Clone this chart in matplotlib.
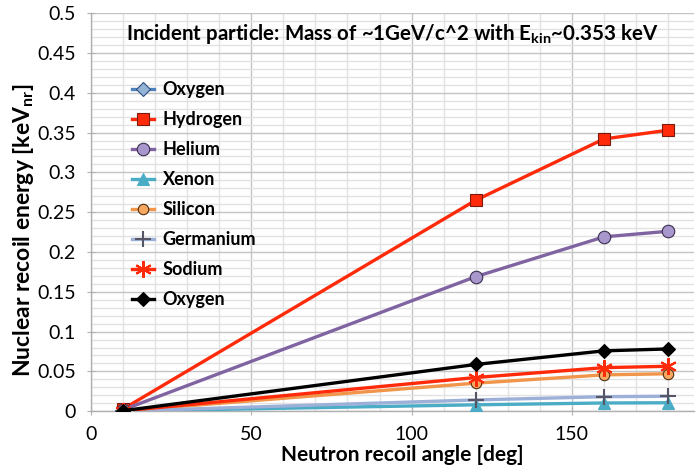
import matplotlib
matplotlib.use("Agg")
import matplotlib.pyplot as plt
from matplotlib.ticker import MultipleLocator, FuncFormatter

plt.rcParams['font.family'] = ['Lato', 'DejaVu Sans']
plt.rcParams['mathtext.fontset'] = 'custom'
plt.rcParams['mathtext.bf'] = 'Lato:bold'
plt.rcParams['mathtext.rm'] = 'Lato'

angles = [10, 120, 160, 180]
oxygen_blue = []
hydrogen = [0.0027, 0.265, 0.342, 0.353]
helium = [0.0017, 0.169, 0.219, 0.226]
xenon = [0.0001, 0.0080, 0.0103, 0.0106]
silicon = [0.0004, 0.0352, 0.0456, 0.047]
germanium = [0.0001, 0.0141, 0.0182, 0.0188]
sodium = [0.0004, 0.0423, 0.0547, 0.0564]
oxygen = [0.0006, 0.0587, 0.0758, 0.0782]

x_ticks = [0, 50, 100, 150]

fig = plt.figure(figsize=(7.0, 4.71), dpi=100)
ax = fig.add_axes([0.130, 0.127, 0.861, 0.845])

lw = 2.4
series = [
    ("Oxygen", oxygen_blue, dict(color="#4F81BD", marker="D", ms=7, mfc="#95B3D7", mec="#2F4F7F", mew=0.8)),
    ("Hydrogen", hydrogen, dict(color="#FF2A0A", marker="s", ms=9, mfc="#FF2A0A", mec="#7A1A0A", mew=0.8)),
    ("Helium", helium, dict(color="#8064A2", marker="o", ms=9, mfc="#A897CC", mec="#3A2F4F", mew=0.8)),
    ("Xenon", xenon, dict(color="#4BACC6", marker="^", ms=9, mfc="#4BACC6", mec="#4BACC6", mew=0.8)),
    ("Silicon", silicon, dict(color="#F0954A", marker="o", ms=7.5, mfc="#F7A860", mec="#4F2F10", mew=0.8)),
    ("Germanium", germanium, dict(color="#9CB0D8", marker="+", ms=12, mfc="#555566", mec="#555566", mew=1.5)),
    ("Sodium", sodium, dict(color="#FF2A0A", marker=(6, 2, 0), ms=12, mfc="#FF2A0A", mec="#FF2A0A", mew=1.5)),
    ("Oxygen", oxygen, dict(color="black", marker="D", ms=7, mfc="black", mec="black", mew=0.8)),
]

for name, vals, st in series:
    ax.plot(angles[:len(vals)], vals, lw=lw, label=name, zorder=3, **st)

ax.set_xlim(0, 188)
ax.set_ylim(0, 0.5)
ax.set_xticks(x_ticks)
ax.xaxis.set_minor_locator(MultipleLocator(10))
ax.yaxis.set_major_locator(MultipleLocator(0.05))
ax.yaxis.set_minor_locator(MultipleLocator(0.01))
ax.yaxis.set_major_formatter(FuncFormatter(lambda v, p: f"{v:.2f}".rstrip('0').rstrip('.') if v else "0"))

ax.grid(which="major", color="#C4C4C4", lw=1.0, zorder=0)
ax.grid(which="minor", color="#E2E2E2", lw=1.0, zorder=0)
ax.set_axisbelow(True)

for s in ["top", "right"]:
    ax.spines[s].set_visible(False)
for s in ["left", "bottom"]:
    ax.spines[s].set_color("#B0B0B0")
    ax.spines[s].set_linewidth(1.0)

ax.tick_params(axis="both", which="major", labelsize=14, color="#B0B0B0", length=6, direction="inout")
ax.tick_params(axis="both", which="minor", length=0)
ax.tick_params(axis="x", pad=8)
ax.tick_params(axis="y", pad=8)

ax.set_xlabel("Neutron recoil angle [deg]", fontsize=15, fontweight="bold")
ax.xaxis.set_label_coords(0.516, -0.085, transform=ax.transAxes)
ax.xaxis.label.set_va("top")
ax.set_ylabel(r"Nuclear recoil energy [keV$_{\mathbf{nr}}$]", fontsize=16.5, fontweight="bold")
ax.yaxis.set_label_coords(-0.092, 0.455, transform=ax.transAxes)

ax.text(0.50, 0.948, r"Incident particle: Mass of ~1GeV/c^2 with E$_{\mathbf{kin}}$~0.353 keV",
        transform=ax.transAxes, ha="center", va="center", fontsize=14.8, fontweight="bold")

leg = ax.legend(loc="upper left", bbox_to_anchor=(0.056, 0.848), frameon=False, fontsize=13,
                handlelength=1.2, labelspacing=0.72, handletextpad=0.5, borderaxespad=0)
for t in leg.get_texts():
    t.set_fontweight("bold")

fig.savefig("out.png", dpi=100)
